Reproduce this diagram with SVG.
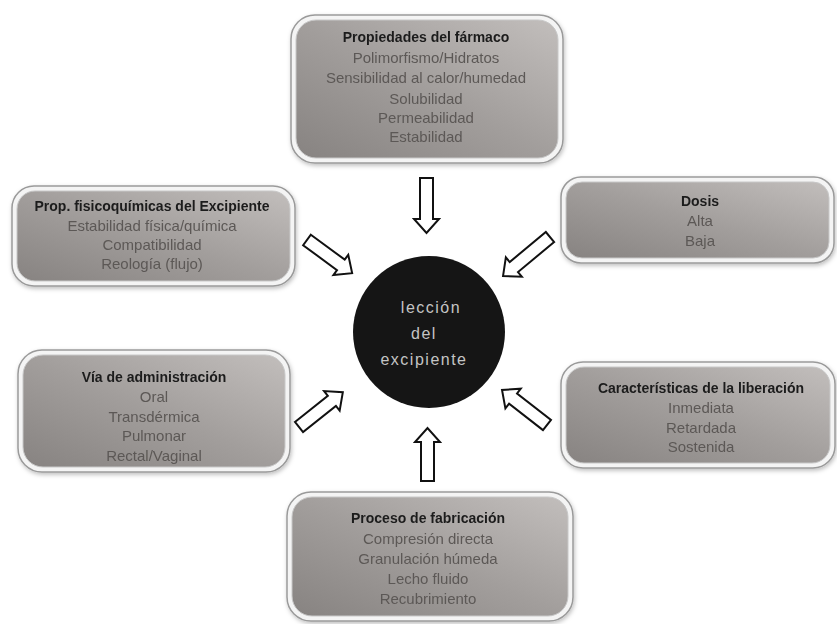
<svg xmlns="http://www.w3.org/2000/svg" width="837" height="624" viewBox="0 0 837 624">
<style>
.outer{fill:#f4f4f4;stroke:#9a9a9a;stroke-width:1.5}
.inner{fill:url(#g);stroke:#c8c8c8;stroke-width:1}
.t{font-family:"Liberation Sans",Arial,sans-serif;font-size:14px;font-weight:bold;fill:#1c1c1c;text-anchor:middle}
.i{font-family:"Liberation Sans",Arial,sans-serif;font-size:15px;fill:#5c5856;text-anchor:middle}
.c{font-family:"Liberation Sans",Arial,sans-serif;font-size:16px;fill:#c4c4c4;text-anchor:middle;letter-spacing:1.5px}
.arr{fill:#fff;stroke:#111;stroke-width:2;stroke-linejoin:miter}
</style>
<defs>
<linearGradient id="g" x1="0" y1="1" x2="1" y2="0">
<stop offset="0" stop-color="#878381"/>
<stop offset="0.5" stop-color="#a29e9c"/>
<stop offset="1" stop-color="#c2bebc"/>
</linearGradient>
<filter id="sh" x="-10%" y="-10%" width="120%" height="125%">
<feDropShadow dx="1" dy="2" stdDeviation="2" flood-color="#000" flood-opacity="0.25"/>
</filter>
</defs>
<rect width="837" height="624" fill="#fff"/>

<g id="farmaco" filter="url(#sh)">
<rect class="outer" x="291" y="15" width="272" height="148" rx="24"/>
<rect class="inner" x="296" y="20" width="262" height="138" rx="20"/>
<text class="t" x="426" y="42">Propiedades del fármaco</text>
<text class="i" x="426" y="63">Polimorfismo/Hidratos</text>
<text class="i" x="426" y="83">Sensibilidad al calor/humedad</text>
<text class="i" x="426" y="104">Solubilidad</text>
<text class="i" x="426" y="123">Permeabilidad</text>
<text class="i" x="426" y="142">Estabilidad</text>
</g>

<g id="excipiente" filter="url(#sh)">
<rect class="outer" x="12" y="186" width="283" height="100" rx="22"/>
<rect class="inner" x="17" y="191" width="273" height="90" rx="18"/>
<text class="t" x="152" y="211">Prop. fisicoquímicas del Excipiente</text>
<text class="i" x="152" y="231">Estabilidad física/química</text>
<text class="i" x="152" y="250">Compatibilidad</text>
<text class="i" x="152" y="269">Reología (flujo)</text>
</g>

<g id="dosis" filter="url(#sh)">
<rect class="outer" x="561" y="177" width="273" height="86" rx="20"/>
<rect class="inner" x="566" y="182" width="263" height="76" rx="16"/>
<text class="t" x="700" y="206">Dosis</text>
<text class="i" x="700" y="226">Alta</text>
<text class="i" x="700" y="246">Baja</text>
</g>

<g id="via" filter="url(#sh)">
<rect class="outer" x="18" y="350" width="272" height="122" rx="24"/>
<rect class="inner" x="23" y="355" width="262" height="112" rx="20"/>
<text class="t" x="154" y="382">Vía de administración</text>
<text class="i" x="154" y="402">Oral</text>
<text class="i" x="154" y="422">Transdérmica</text>
<text class="i" x="154" y="441">Pulmonar</text>
<text class="i" x="154" y="461">Rectal/Vaginal</text>
</g>

<g id="liberacion" filter="url(#sh)">
<rect class="outer" x="561" y="362" width="274" height="106" rx="22"/>
<rect class="inner" x="566" y="367" width="264" height="96" rx="18"/>
<text class="t" x="701" y="393">Características de la liberación</text>
<text class="i" x="701" y="413">Inmediata</text>
<text class="i" x="701" y="433">Retardada</text>
<text class="i" x="701" y="452">Sostenida</text>
</g>

<g id="fabricacion" filter="url(#sh)">
<rect class="outer" x="287" y="492" width="286" height="129" rx="24"/>
<rect class="inner" x="292" y="497" width="276" height="119" rx="20"/>
<text class="t" x="428" y="523">Proceso de fabricación</text>
<text class="i" x="428" y="544">Compresión directa</text>
<text class="i" x="428" y="564">Granulación húmeda</text>
<text class="i" x="428" y="584">Lecho fluido</text>
<text class="i" x="428" y="604">Recubrimiento</text>
</g>

<g id="centro">
<circle cx="429" cy="332" r="76" fill="#151515"/>
<text class="c" x="431" y="313">lección</text>
<text class="c" x="424" y="339">del</text>
<text class="c" x="424" y="365">excipiente</text>
</g>

<g id="conectores">
<path class="arr" transform="translate(426.5,178) rotate(90)" d="M0,-6.5 H41 V-12.5 L55,0 L41,12.5 V6.5 H0 Z"/>
<path class="arr" transform="translate(427.5,481) rotate(-90)" d="M0,-6.5 H39 V-12.5 L53,0 L39,12.5 V6.5 H0 Z"/>
<path class="arr" transform="translate(307,240) rotate(36.3)" d="M0,-6.5 H42 V-12.5 L56,0 L42,12.5 V6.5 H0 Z"/>
<path class="arr" transform="translate(550,237) rotate(140.3)" d="M0,-6.5 H47 V-12.5 L61,0 L47,12.5 V6.5 H0 Z"/>
<path class="arr" transform="translate(299,427) rotate(-38.5)" d="M0,-6.5 H42 V-12.5 L56,0 L42,12.5 V6.5 H0 Z"/>
<path class="arr" transform="translate(547,425) rotate(-142.1)" d="M0,-6.5 H43 V-12.5 L57,0 L43,12.5 V6.5 H0 Z"/>
</g>
</svg>
